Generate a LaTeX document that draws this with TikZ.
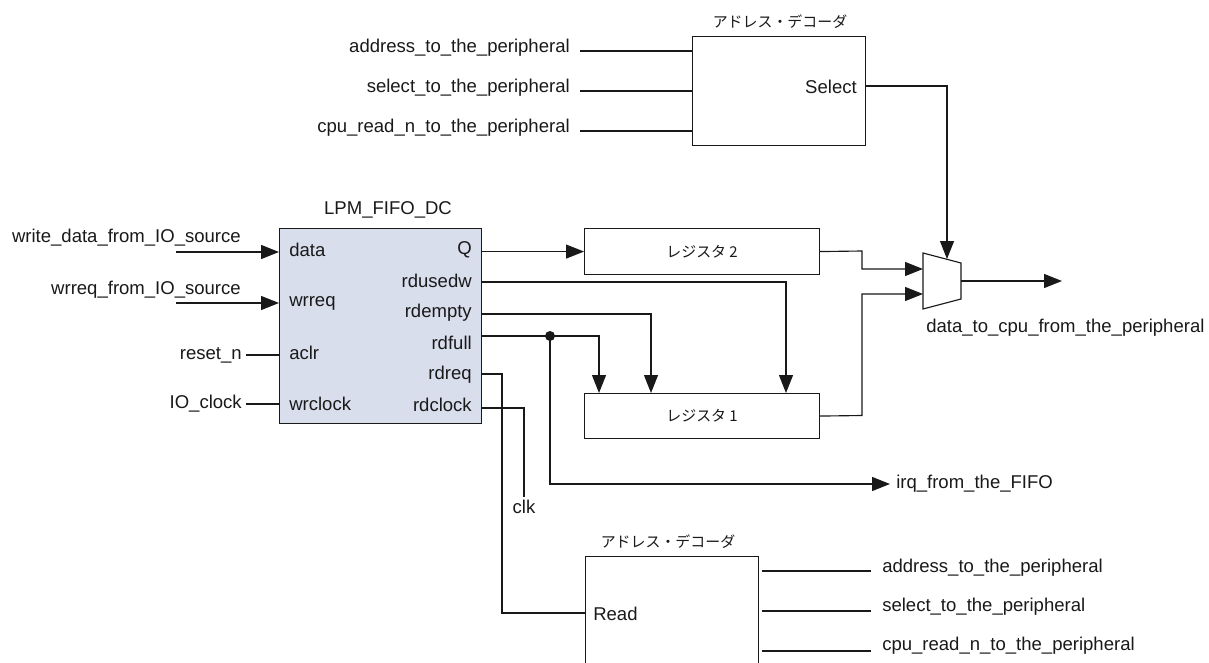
\documentclass[tikz,border=0pt]{standalone}
\usepackage{fontspec}
\setmainfont{Liberation Sans}
\newfontfamily\jp{Noto Sans CJK JP}
\usetikzlibrary{arrows.meta,calc}
\definecolor{fifofill}{RGB}{217,222,237}
\definecolor{ink}{RGB}{25,25,25}
\begin{document}
\begin{tikzpicture}[x=0.75pt,y=-0.75pt,
  every node/.style={font=\fontsize{13.9}{16}\selectfont, inner sep=0pt, text=ink},
  blk/.style={draw=ink, line width=0.85pt, inner sep=0pt, anchor=north west},
  wire/.style={draw=ink, line width=0.85pt},
  arr/.style={wire, -{Triangle[length=13.5pt,width=10.5pt]}},
  jlbl/.style={font=\jp\fontsize{11.2}{14}\selectfont},
  dot/.style={circle, fill=ink, minimum size=7.5pt, inner sep=0pt}]
\clip (0,0) rectangle (1209,663);
\fill[white] (0,0) rectangle (1209,663);

% ---------- blocks ----------
\node[blk, fill=fifofill, minimum width=202*0.75pt, minimum height=195*0.75pt] (fifo) at (279,228) {};
\node (fifot) at (388,210) {LPM\_FIFO\_DC};
\node[blk, minimum width=235*0.75pt, minimum height=46*0.75pt] (reg2) at (584,228) {};
\node[jlbl] at (reg2.center) {レジスタ 2};
\node[blk, minimum width=235*0.75pt, minimum height=45*0.75pt] (reg1) at (584,393) {};
\node[jlbl] at (reg1.center) {レジスタ 1};
\node[blk, minimum width=173*0.75pt, minimum height=109*0.75pt] (dec1) at (692,36) {};
\node[jlbl] (dec1t) at (780,22) {アドレス・デコーダ};
\node[blk, minimum width=173*0.75pt, minimum height=170*0.75pt] (dec2) at (585,556) {};
\node[jlbl] (dec2t) at (668,542) {アドレス・デコーダ};

% mux
\draw[wire] (923,253) -- (961,263) -- (961,299) -- (923,309) -- cycle;
\coordinate (muxin1) at (923,269);
\coordinate (muxin2) at (923,294);
\coordinate (muxsel) at (947,259);
\coordinate (muxout) at (961,281);

% ---------- FIFO ports ----------
\node[anchor=west] (pdata) at (289,250) {data};
\node[anchor=west] (pwrreq) at (289,303) {wrreq};
\node[anchor=west] (paclr) at (289,353) {aclr};
\node[anchor=west] (pwrclk) at (289,404) {wrclock};
\node[anchor=east] (pq) at (472,250) {Q};
\node[anchor=east] (pused) at (472,281) {rdusedw};
\node[anchor=east] (pempty) at (472,313) {rdempty};
\node[anchor=east] (pfull) at (472,343) {rdfull};
\node[anchor=east] (preq) at (472,375) {rdreq};
\node[anchor=east] (prclk) at (472,405) {rdclock};

% ---------- left inputs ----------
\node[anchor=east] (iwd) at (241,238) {write\_data\_from\_IO\_source};
\node[anchor=east] (iwr) at (241,290) {wrreq\_from\_IO\_source};
\node[anchor=east, inner xsep=3pt] (irst) at (246,355) {reset\_n};
\node[anchor=east, inner xsep=3pt] (iclk) at (246,404) {IO\_clock};
\coordinate (wd0) at (176,252);
\coordinate (wr0) at (176,303);
\draw[arr] (wd0) -- (fifo.west |- wd0);
\draw[arr] (wr0) -- (fifo.west |- wr0);
\draw[wire] (irst.east) -- (fifo.west |- irst.east);
\draw[wire] (iclk.east) -- (fifo.west |- iclk.east);

% ---------- FIFO outputs ----------
\draw[arr] (fifo.east |- reg2.west) -- (reg2.west);
\draw[arr] (fifo.east |- 0,282) -| (786,393);
\draw[arr] (fifo.east |- 0,314) -| (651,393);
\draw[wire] (fifo.east |- 0,336) -- (550,336);
\node[dot] (fulldot) at (550,336) {};
\draw[arr] (fulldot.center) -| (599,393);
\node[anchor=west] (irq) at (896,484) {irq\_from\_the\_FIFO};
\coordinate (irqtip) at (890,484);
\draw[arr] (fulldot.center) |- (irqtip);

\node[anchor=north, inner sep=2pt] (clk) at (524,497) {clk};
\draw[wire] (fifo.east |- 0,408) -| (clk.north);
\node[anchor=west] (pread) at (593,614) {Read};
\draw[wire] (fifo.east |- 0,374) -- (502,374) |- (dec2.west |- 0,613);

% ---------- to mux ----------
\draw[arr] (reg2.east) -- (862,251) |- (muxin1);
\draw[arr] (reg1.east) -- (862,415.5) |- (muxin2);
\node[anchor=east] (psel) at (857,87) {Select};
\draw[arr] (dec1.east |- 0,86) -| (muxsel);
\coordinate (outtip) at (1062,281);
\draw[arr] (muxout) -- (outtip);
\node[anchor=west] (dout) at (926,328) {data\_to\_cpu\_from\_the\_peripheral};

% ---------- top decoder inputs ----------
\node[anchor=east] (a1) at (570,48) {address\_to\_the\_peripheral};
\node[anchor=east] (a2) at (570,88) {select\_to\_the\_peripheral};
\node[anchor=east] (a3) at (570,128) {cpu\_read\_n\_to\_the\_peripheral};
\coordinate (a1s) at (580,51);
\coordinate (a2s) at (580,91);
\coordinate (a3s) at (580,131);
\draw[wire] (a1s) -- (dec1.west |- a1s);
\draw[wire] (a2s) -- (dec1.west |- a2s);
\draw[wire] (a3s) -- (dec1.west |- a3s);

% ---------- bottom decoder outputs ----------
\node[anchor=west] (b1) at (882,568) {address\_to\_the\_peripheral};
\node[anchor=west] (b2) at (882,607) {select\_to\_the\_peripheral};
\node[anchor=west] (b3) at (882,646) {cpu\_read\_n\_to\_the\_peripheral};
\coordinate (b1e) at (871,571);
\coordinate (b2e) at (871,611);
\coordinate (b3e) at (871,651);
\draw[wire] ($(dec2.east |- b1e)+(3,0)$) -- (b1e);
\draw[wire] ($(dec2.east |- b2e)+(3,0)$) -- (b2e);
\draw[wire] ($(dec2.east |- b3e)+(3,0)$) -- (b3e);
\end{tikzpicture}
\end{document}
